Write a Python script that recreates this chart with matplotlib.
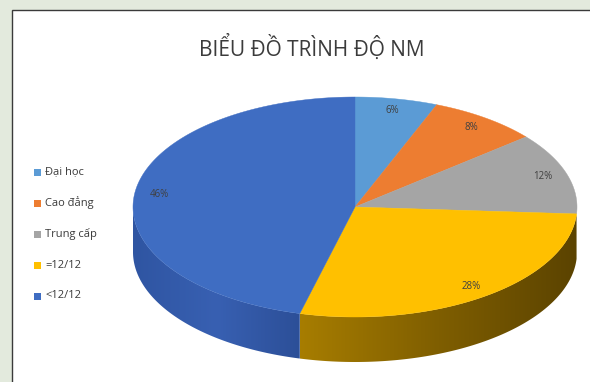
import numpy as np
import matplotlib
matplotlib.use("Agg")
import matplotlib.pyplot as plt
from matplotlib.patches import Polygon, Rectangle
from matplotlib.colors import LinearSegmentedColormap

# data
categories = ["Đại học", "Cao đẳng", "Trung cấp", "=12/12", "<12/12"]
shares = [6, 8, 12, 28, 46]
top_colors = ["#5b9bd5", "#ed7d31", "#a5a5a5", "#ffc000", "#3f6dc2"]
side_colors = [
    ["#3f7bb4", "#2f6296"],
    ["#b35d20", "#8a4414"],
    ["#7a7a7a", "#5a5a5a"],
    ["#a77d00", "#7f5e00", "#5b4300"],
    ["#2f55a2", "#3860b2", "#2c4f98"],
]
title = "BIỂU ĐỒ TRÌNH ĐỘ NM"

plt.rcParams["font.family"] = ["Open Sans", "DejaVu Sans"]

W, H = 590, 382
fig = plt.figure(figsize=(W / 100, H / 100), dpi=100, facecolor="#e3eadd")
ax = fig.add_axes([0, 0, 1, 1])
ax.set_xlim(0, W)
ax.set_ylim(H, 0)
ax.axis("off")

# white chart area
ax.add_patch(Rectangle((12, 10), 600, 400, facecolor="white",
                       edgecolor="#3a3a3a", lw=1.0, zorder=0))

ax.text(312, 48, title, ha="center", va="center", fontsize=15,
        color="#3b3b3b")

# pie geometry (pixels)
cx, cy, a, b, depth = 355, 207, 222, 110, 45


def rim(t, dy=0.0):
    t = np.radians(t)
    return cx + a * np.sin(t), cy - b * np.cos(t) + dy


fracs = np.array(shares) / sum(shares)
edges = np.concatenate([[0], np.cumsum(fracs)]) * 360

# side walls first (only the front half, 90..270 deg, is visible)
for i in range(len(shares)):
    t1, t2 = max(edges[i], 90), min(edges[i + 1], 270)
    if t2 <= t1:
        continue
    t = np.linspace(t1, t2, 120)
    xs, ys = rim(t)
    xb, yb = rim(t[::-1], depth)
    pts = np.column_stack([np.concatenate([xs, xb]), np.concatenate([ys, yb])])
    poly = Polygon(pts, closed=True, facecolor="none", edgecolor="none")
    ax.add_patch(poly)
    cmap = LinearSegmentedColormap.from_list("side%d" % i, side_colors[i])
    grad = np.linspace(0, 1, 256)[None, :]
    im = ax.imshow(grad, cmap=cmap, aspect="auto",
                   extent=(xs.min(), xs.max(), ys.max() + depth, ys.min()),
                   zorder=1)
    im.set_clip_path(poly)

# top faces
for i in range(len(shares)):
    t = np.linspace(edges[i], edges[i + 1], 200)
    xs, ys = rim(t)
    pts = np.column_stack([np.concatenate([[cx], xs]), np.concatenate([[cy], ys])])
    ax.add_patch(Polygon(pts, closed=True, facecolor=top_colors[i],
                         edgecolor=top_colors[i], lw=0.3, zorder=2))

# percentage labels
for i, s in enumerate(shares):
    mid = (edges[i] + edges[i + 1]) / 2
    lx = cx + 0.89 * a * np.sin(np.radians(mid))
    ly = cy - 0.89 * b * np.cos(np.radians(mid))
    ax.text(lx, ly, "%d%%" % s, ha="center", va="center", fontsize=7,
            color="#404040", zorder=3)

ax.set_xlim(0, W)
ax.set_ylim(H, 0)

# legend
for i, name in enumerate(categories):
    y = 172 + i * 31
    ax.add_patch(Rectangle((34, y - 3.5), 7, 7, facecolor=top_colors[i],
                           edgecolor="none", zorder=3))
    ax.text(45, y, name, ha="left", va="center", fontsize=8,
            color="#3a3a3a", zorder=3)

fig.savefig("out.png", dpi=100, facecolor=fig.get_facecolor())
